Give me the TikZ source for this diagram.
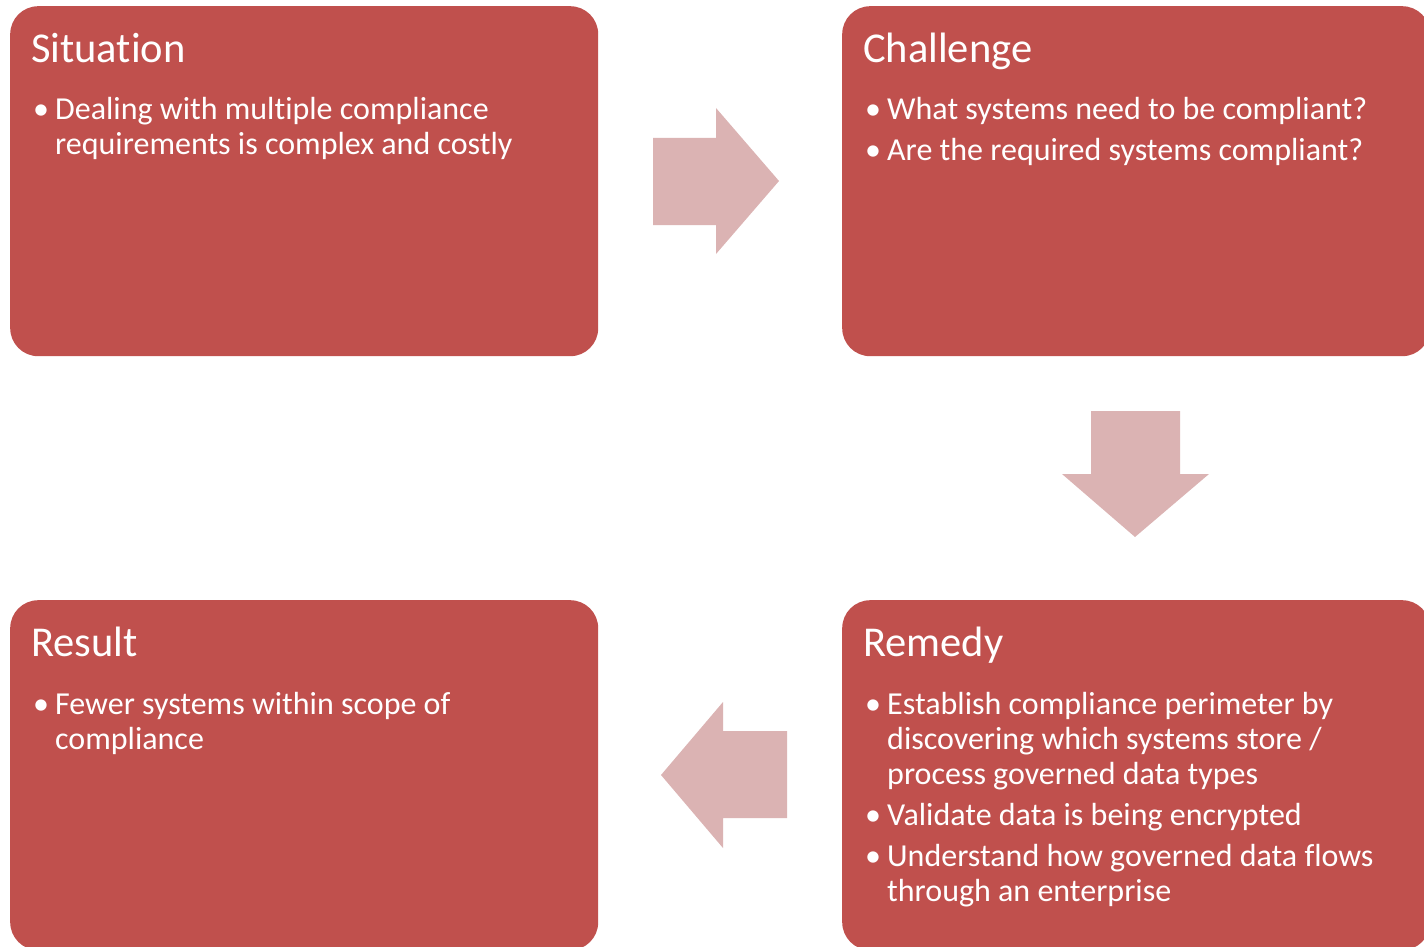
\documentclass[tikz,border=0pt]{standalone}
\usepackage{fontspec}
\setmainfont{Carlito}[Ligatures=NoCommon]
\definecolor{boxred}{HTML}{C0504D}
\definecolor{arrowpink}{HTML}{DBB3B3}
\newcommand{\bul}{\makebox[24pt][l]{\hspace{2pt}\textbullet}}

\begin{document}
\begin{tikzpicture}
  [x=1pt,y=-1pt,
   box/.style={rectangle,rounded corners=28pt,fill=boxred,minimum width=588pt,minimum height=350pt,anchor=north west,inner sep=0pt},
   title/.style={anchor=base west,text=white,inner sep=0pt,font=\fontsize{42.5}{50}\selectfont},
   items/.style={anchor=base west,text=white,inner sep=0pt,font=\fontsize{32}{35}\selectfont},
   blockarrow/.style={fill=arrowpink}]
  \useasboundingbox (0,0) rectangle (1424,947);
  \clip (0,0) rectangle (1424,947);

  \node (sit)[box] at (10,6) {};
  \node (cha)[box] at (842,6) {};
  \node (rem)[box] at (842,600) {};
  \node (res)[box] at (10,600) {};

  \node (sitT)[title] at (31,63) {Situation};
  \node (chaT)[title] at (863,63) {Challenge};
  \node (remT)[title] at (863,656) {Remedy};
  \node (resT)[title] at (31,656) {Result};

  \node (sitL)[items] at (31,120) {\begin{tabular}[t]{@{}l@{}l@{}}
    \bul & Dealing with multiple compliance\\
         & requirements is complex and costly
  \end{tabular}};
  \node (chaL)[items] at (863,120) {\begin{tabular}[t]{@{}l@{}l@{}}
    \bul & What systems need to be compliant?\\[6pt]
    \bul & Are the required systems compliant?
  \end{tabular}};
  \node (remL)[items] at (863,714) {\begin{tabular}[t]{@{}l@{}l@{}}
    \bul & Establish compliance perimeter by\\
         & discovering which systems store /\\
         & process governed data types\\[6pt]
    \bul & Validate data is being encrypted\\[6pt]
    \bul & Understand how governed data flows\\
         & through an enterprise
  \end{tabular}};
  \node (resL)[items] at (31,714) {\begin{tabular}[t]{@{}l@{}l@{}}
    \bul & Fewer systems within scope of\\
         & compliance
  \end{tabular}};

  % block arrows between the boxes
  \fill[blockarrow] (653,138) -- (716,138) -- (716,108) -- (779,181) -- (716,254) -- (716,225) -- (653,225) -- cycle;
  \fill[blockarrow] (1091,411) -- (1180,411) -- (1180,474) -- (1209,474) -- (1135,537) -- (1062,474) -- (1091,474) -- cycle;
  \fill[blockarrow] (787,731) -- (723,731) -- (723,702) -- (661,775) -- (723,848) -- (723,818) -- (787,818) -- cycle;

\end{tikzpicture}
\end{document}
